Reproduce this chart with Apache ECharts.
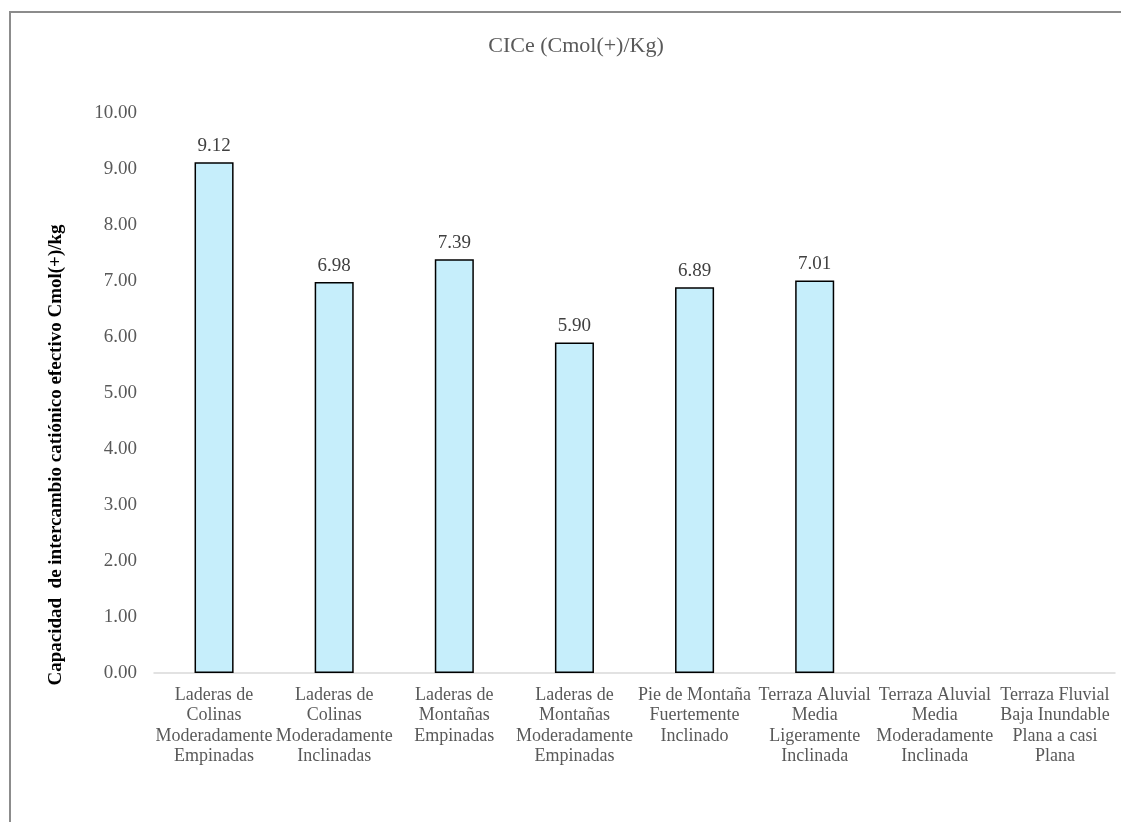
<!DOCTYPE html>
<html>
<head>
<meta charset="utf-8">
<script src="https://cdn.jsdelivr.net/npm/echarts@6/dist/echarts.min.js"></script>
<style>
  html, body { margin: 0; padding: 0; background: #fff; }
  #main { width: 1121px; height: 822px; }
</style>
</head>
<body>
<div id="main"></div>
<script>
// categorias (unidades de paisaje)
var categories = [
  'Laderas de\nColinas\nModeradamente\nEmpinadas',
  'Laderas de\nColinas\nModeradamente\nInclinadas',
  'Laderas de\nMontañas\nEmpinadas',
  'Laderas de\nMontañas\nModeradamente\nEmpinadas',
  'Pie de Montaña\nFuertemente\nInclinado',
  'Terraza Aluvial\nMedia\nLigeramente\nInclinada',
  'Terraza Aluvial\nMedia\nModeradamente\nInclinada',
  'Terraza Fluvial\nBaja Inundable\nPlana a casi\nPlana'
];
// CICe por unidad, las dos ultimas sin dato
var cice = [9.12, 6.98, 7.39, 5.90, 6.89, 7.01, null, null];

var font = '"Liberation Serif", "Times New Roman", serif';
var myChart = echarts.init(document.getElementById('main'));

var option = {
  animation: false,
  backgroundColor: '#fff',
  title: {
    text: 'CICe (Cmol(+)/Kg)',
    left: 571,
    textAlign: 'center',
    top: 30,
    textStyle: { fontFamily: font, fontSize: 22, fontWeight: 'normal', color: '#595959' }
  },
  graphic: [{
    type: 'rect',
    shape: { x: 10, y: 12, width: 1130, height: 830 },
    style: { fill: 'none', stroke: '#8c8c8c', lineWidth: 2 },
    silent: true
  }, {
    // titulo del eje vertical
    type: 'text',
    x: 56,
    y: 455,
    rotation: Math.PI / 2,
    style: {
      text: 'Capacidad  de intercambio catiónico efectivo Cmol(+)/kg',
      fontFamily: font,
      fontSize: 19,
      fontWeight: 'bold',
      fill: '#000',
      align: 'center',
      verticalAlign: 'middle'
    },
    silent: true
  }],
  grid: { left: 154, right: 6, top: 113, bottom: 149 },
  xAxis: {
    type: 'category',
    data: categories,
    axisLine: { lineStyle: { color: '#d9d9d9', width: 1.5 } },
    axisTick: { show: false },
    axisLabel: {
      interval: 0,
      fontFamily: font,
      fontSize: 18,
      lineHeight: 20.5,
      color: '#595959',
      margin: 12
    }
  },
  yAxis: {
    type: 'value',
    min: 0,
    max: 10,
    interval: 1,
    splitLine: { show: false },
    axisLine: { show: false },
    axisTick: { show: false },
    axisLabel: {
      fontFamily: font,
      fontSize: 19,
      color: '#595959',
      margin: 17,
      formatter: function (v) { return v.toFixed(2); }
    }
  },
  series: [{
    type: 'bar',
    data: cice,
    barWidth: '32.5%',
    itemStyle: { color: '#c6eefb', borderColor: '#000', borderWidth: 1.5 },
    label: {
      show: true,
      position: 'top',
      distance: 7,
      fontFamily: font,
      fontSize: 19,
      color: '#404040',
      formatter: function (p) { return p.value == null ? '' : p.value.toFixed(2); }
    }
  }]
};

myChart.setOption(option);
</script>
</body>
</html>
